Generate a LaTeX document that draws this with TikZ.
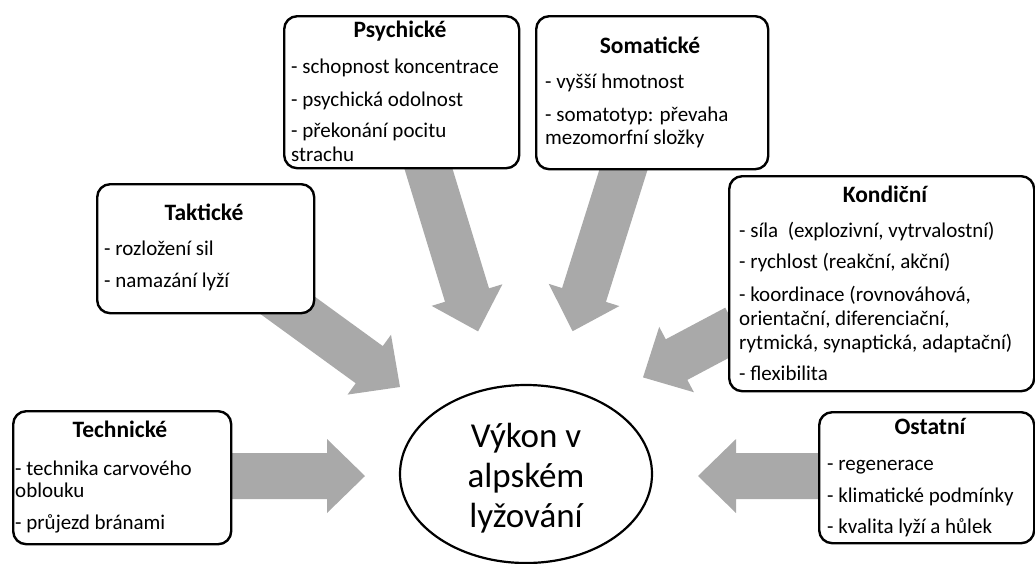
\documentclass[tikz,border=0pt]{standalone}
\usepackage{fontspec}
\setmainfont{Carlito}
\usetikzlibrary{calc,shapes.geometric}
\definecolor{arrowgray}{HTML}{A9A9A9}
\tikzset{
  box/.style={draw=black, line width=2.4pt, rounded corners=13pt, fill=white, anchor=north west, inner sep=0pt},
  ttl/.style={font=\fontsize{23.5}{28}\selectfont\bfseries, inner sep=0pt, anchor=base},
  itm/.style={font=\fontsize{21}{24}\selectfont, inner sep=0pt, anchor=base west},
  blk/.style={fill=arrowgray},
}
\newcommand\blockarrow[2]{%
  \coordinate (#1-h) at ($(#2)!38pt!(#1)$);
  \fill[blk] ($(#1)!23pt!90:(#2)$) -- ($(#1-h)!23pt!90:(#2)$) -- ($(#1-h)!37pt!90:(#2)$) -- (#2)
    -- ($(#1-h)!37pt!-90:(#2)$) -- ($(#1-h)!23pt!-90:(#2)$) -- ($(#1)!23pt!-90:(#2)$) -- cycle;}
\begin{document}
\begin{tikzpicture}[x=1pt,y=-1pt]
\useasboundingbox (0,0) rectangle (1035,563);
% arrow start points (hidden under boxes) and tips
\coordinate (psyS) at (425,157.4);
\coordinate (psyT) at (478.1,331.4);
\coordinate (somS) at (627,158.5);
\coordinate (somT) at (572.6,331.2);
\coordinate (konS) at (736,328);
\coordinate (konT) at (643,377.4);
\coordinate (takS) at (247.9,276.5);
\coordinate (takT) at (400,387);
\coordinate (tecS) at (200,476);
\coordinate (tecT) at (365,476);
\coordinate (ostS) at (860,476);
\coordinate (ostT) at (698,476);
\blockarrow{psyS}{psyT}
\blockarrow{somS}{somT}
\blockarrow{konS}{konT}
\blockarrow{takS}{takT}
\blockarrow{tecS}{tecT}
\blockarrow{ostS}{ostT}
% boxes
\node[box, minimum width=235pt, minimum height=152pt] (psy) at (283,15) {};
\node[box, minimum width=232pt, minimum height=153pt] (som) at (535,15) {};
\node[box, minimum width=217pt, minimum height=129pt] (tak) at (96,183) {};
\node[box, minimum width=305pt, minimum height=215pt] (kon) at (728,175) {};
\node[box, minimum width=218pt, minimum height=133pt] (tec) at (12,410) {};
\node[box, minimum width=215pt, minimum height=131pt] (ost) at (818,411) {};
% centre ellipse
\node[draw, ellipse, line width=2.2pt, minimum width=252pt, minimum height=178pt, inner sep=0pt] (perf) at (526,474) {};
\node[align=center, font=\fontsize{35}{40}\selectfont, inner sep=0pt] (perftxt) at (526,478) {Výkon v\\alpském\\lyžování};
% Psychické
\node[ttl] (psyt) at (400,37) {Psychické};
\node[itm] (psy1) at (291,73) {- schopnost koncentrace};
\node[itm] (psy2) at (291,106) {- psychická odolnost};
\node[itm] (psy3) at (291,137) {- překonání pocitu};
\node[itm] (psy4) at (291,161) {strachu};
% Somatické
\node[ttl] (somt) at (650,53) {Somatické};
\node[itm] (som1) at (545,88) {- vyšší hmotnost};
\node[itm] (som2) at (545,121) {- somatotyp: převaha};
\node[itm] (som3) at (545,144) {mezomorfní složky};
% Taktické
\node[ttl] (takt) at (204,220) {Taktické};
\node[itm] (tak1) at (104,255) {- rozložení sil};
\node[itm] (tak2) at (104,287) {- namazání lyží};
% Kondiční
\node[ttl] (kont) at (885,202) {Kondiční};
\node[itm] (kon1) at (739,237) {- síla~ (explozivní, vytrvalostní)};
\node[itm] (kon2) at (739,268) {- rychlost (reakční, akční)};
\node[itm] (kon3) at (739,301) {- koordinace (rovnováhová,};
\node[itm] (kon4) at (739,325) {orientační, diferenciační,};
\node[itm] (kon5) at (739,349) {rytmická, synaptická, adaptační)};
\node[itm] (kon6) at (739,380) {- flexibilita};
% Technické
\node[ttl] (tect) at (120,437) {Technické};
\node[itm] (tec1) at (15,475) {- technika carvového};
\node[itm] (tec2) at (15,497) {oblouku};
\node[itm] (tec3) at (15,529) {- průjezd bránami};
% Ostatní
\node[ttl] (ostt) at (930,434) {Ostatní};
\node[itm] (ost1) at (827,470) {- regenerace};
\node[itm] (ost2) at (827,502) {- klimatické podmínky};
\node[itm] (ost3) at (827,533) {- kvalita lyží a hůlek};
\end{tikzpicture}
\end{document}
